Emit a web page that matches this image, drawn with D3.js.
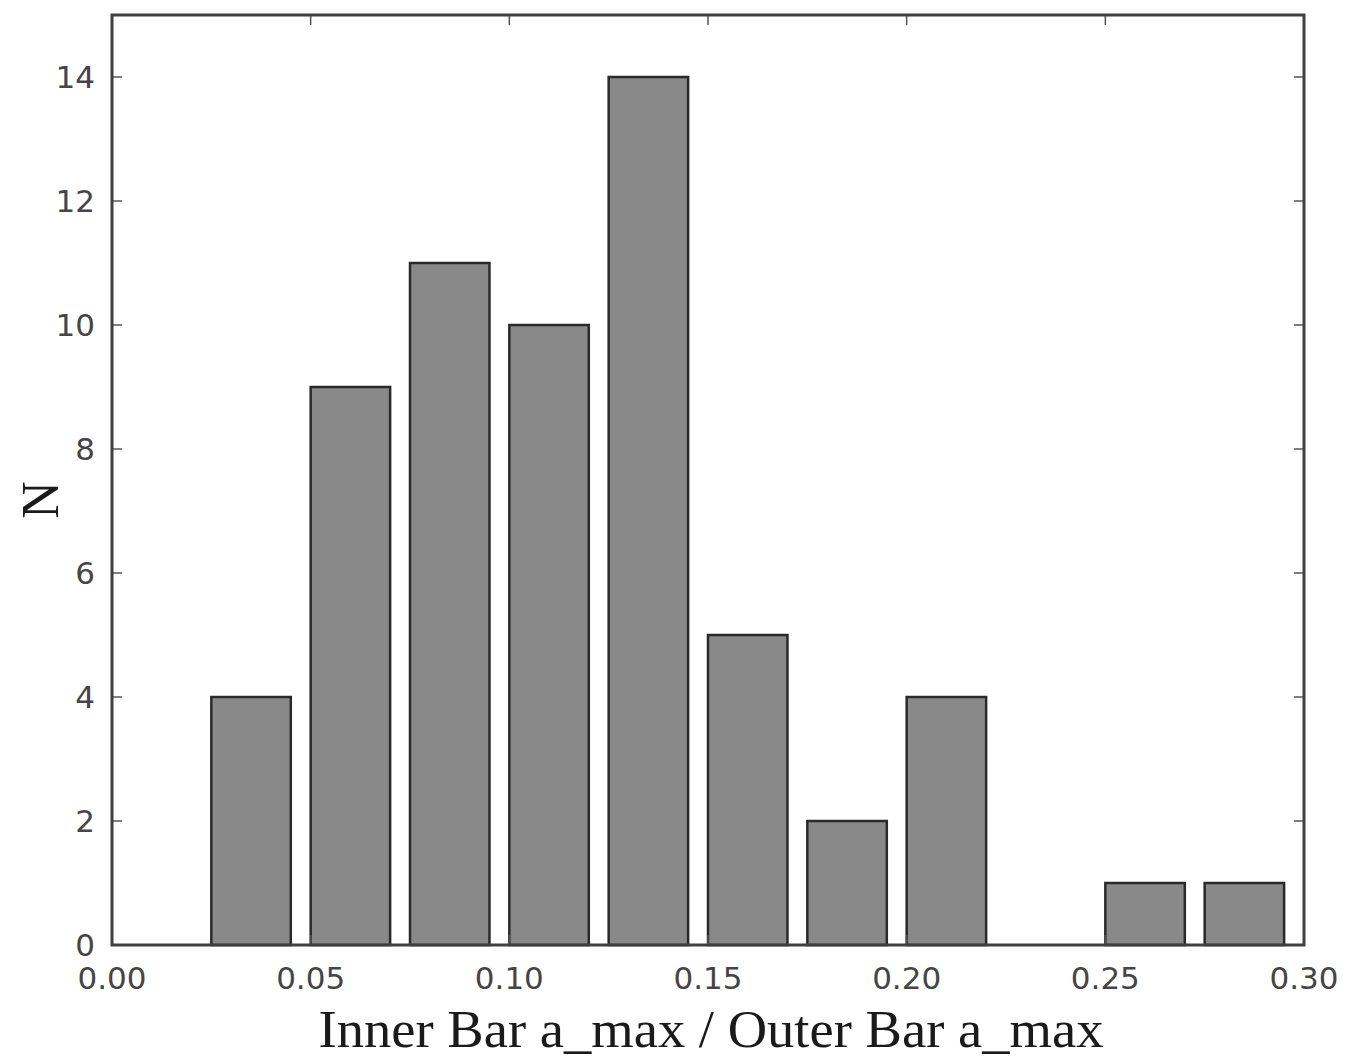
<!DOCTYPE html>
<html>
<head>
<meta charset="utf-8">
<script src="https://cdn.jsdelivr.net/npm/d3@7"></script>
<style>
  html, body { margin: 0; padding: 0; background: #fff; }
  svg { display: block; }
</style>
</head>
<body>
<svg id="chart" width="1347" height="1058"></svg>
<script>
// Histogram of inner/outer bar length ratios
const binStarts = [0.025, 0.05, 0.075, 0.10, 0.125, 0.15, 0.175, 0.20, 0.225, 0.25, 0.275];
const counts    = [4, 9, 11, 10, 14, 5, 2, 4, 0, 1, 1];
const binWidth = 0.025;
const barFraction = 0.8;

const xTicks = [0.00, 0.05, 0.10, 0.15, 0.20, 0.25, 0.30];
const yTicks = [0, 2, 4, 6, 8, 10, 12, 14];

const xLabel = "Inner Bar a_max / Outer Bar a_max";
const yLabel = "N";

const margin = { left: 112, top: 15, right: 1347 - 1304, bottom: 1058 - 945 };
const width = 1347, height = 1058;
const innerW = width - margin.left - margin.right;
const innerH = height - margin.top - margin.bottom;

const svg = d3.select("#chart");
const g = svg.append("g").attr("transform", `translate(${margin.left},${margin.top})`);

const x = d3.scaleLinear().domain([0, 0.30]).range([0, innerW]);
const y = d3.scaleLinear().domain([0, 15]).range([innerH, 0]);

// bars (left-aligned within each bin, 80% of bin width)
g.selectAll("rect.bar")
  .data(binStarts.map((s, i) => ({ s, c: counts[i] })).filter(d => d.c > 0))
  .join("rect")
  .attr("class", "bar")
  .attr("x", d => x(d.s))
  .attr("width", d => x(d.s + binWidth * barFraction) - x(d.s))
  .attr("y", d => y(d.c))
  .attr("height", d => y(0) - y(d.c))
  .attr("fill", "#898989")
  .attr("stroke", "#2a2a2a")
  .attr("stroke-width", 2.5);

// inward ticks on all four sides
const tickLen = 10;
const tickStyle = sel => sel.attr("stroke", "#555").attr("stroke-width", 1.5);

g.selectAll("line.xb").data(xTicks).join("line")
  .attr("x1", d => x(d)).attr("x2", d => x(d))
  .attr("y1", innerH).attr("y2", innerH - tickLen).call(tickStyle);
g.selectAll("line.xt").data(xTicks).join("line")
  .attr("x1", d => x(d)).attr("x2", d => x(d))
  .attr("y1", 0).attr("y2", tickLen).call(tickStyle);
g.selectAll("line.yl").data(yTicks).join("line")
  .attr("x1", 0).attr("x2", tickLen)
  .attr("y1", d => y(d)).attr("y2", d => y(d)).call(tickStyle);
g.selectAll("line.yr").data(yTicks).join("line")
  .attr("x1", innerW).attr("x2", innerW - tickLen)
  .attr("y1", d => y(d)).attr("y2", d => y(d)).call(tickStyle);

// frame
g.append("rect")
  .attr("x", 0).attr("y", 0).attr("width", innerW).attr("height", innerH)
  .attr("fill", "none").attr("stroke", "#404040").attr("stroke-width", 3);

// tick labels
const tickFont = "'DejaVu Sans', sans-serif";
g.selectAll("text.xl").data(xTicks).join("text")
  .attr("x", d => x(d)).attr("y", innerH + 44)
  .attr("text-anchor", "middle")
  .attr("font-family", tickFont).attr("font-size", 31)
  .attr("fill", "#454545")
  .text(d => d3.format(".2f")(d));
g.selectAll("text.yl").data(yTicks).join("text")
  .attr("x", -17).attr("y", d => y(d) + 11)
  .attr("text-anchor", "end")
  .attr("font-family", tickFont).attr("font-size", 31)
  .attr("fill", "#454545")
  .text(d => d);

// axis titles
svg.append("text")
  .attr("x", 711).attr("y", 1047)
  .attr("text-anchor", "middle")
  .attr("font-family", "'Liberation Serif', 'Times New Roman', serif")
  .attr("font-size", 53)
  .attr("textLength", 785)
  .attr("lengthAdjust", "spacingAndGlyphs")
  .attr("fill", "#1a1a1a")
  .text(xLabel);
svg.append("text")
  .attr("transform", "translate(58,500) rotate(-90)")
  .attr("text-anchor", "middle")
  .attr("font-family", "'Liberation Serif', 'Times New Roman', serif")
  .attr("font-size", 52)
  .attr("fill", "#1a1a1a")
  .text(yLabel);
</script>
</body>
</html>
